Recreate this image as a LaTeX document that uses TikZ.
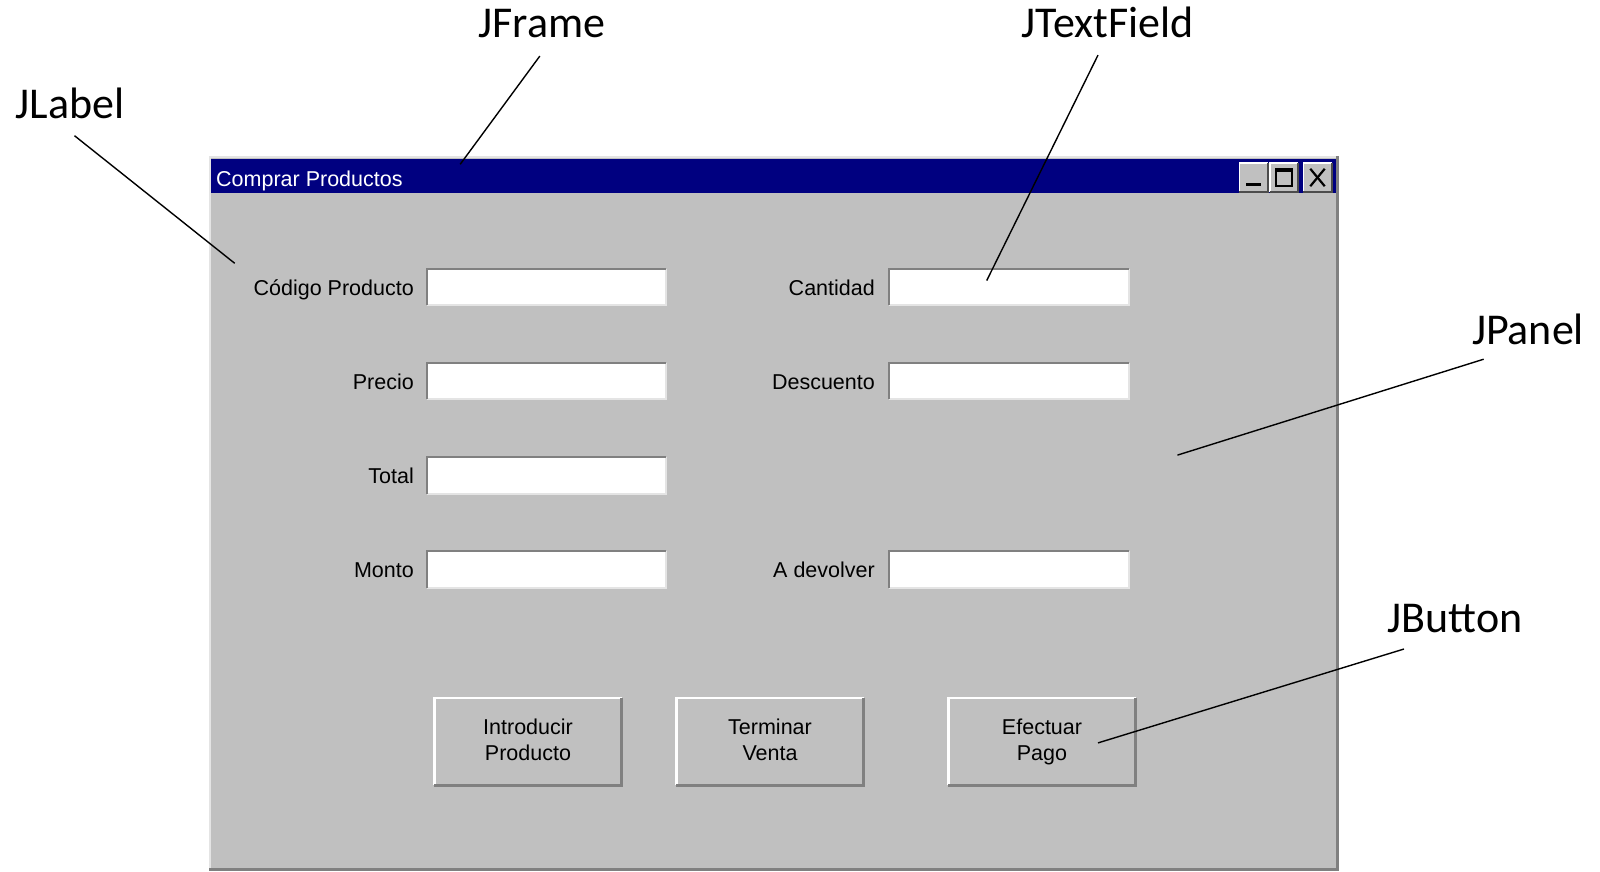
\documentclass[tikz,border=0pt]{standalone}
\usepackage{fontspec}
\newfontfamily\uifont{Liberation Sans}
\newfontfamily\callfont{Carlito}
\definecolor{wingray}{HTML}{C0C0C0}
\definecolor{winnavy}{HTML}{000080}
\definecolor{winshadow}{HTML}{808080}
\definecolor{winlight}{HTML}{E4E4E4}
\begin{document}
\begin{tikzpicture}[x=1pt,y=-1pt,
 callout/.style={font=\callfont\fontsize{44}{52}\selectfont, anchor=base, inner sep=0pt},
 uilabel/.style={font=\uifont\fontsize{21.5}{26}\selectfont, anchor=base east, inner sep=0pt},
 field/.style={fill=white, minimum width=239pt, minimum height=36pt, inner sep=0pt},
 pushbtn/.style={fill=wingray, minimum width=187pt, minimum height=87pt, inner sep=0pt, align=center, font=\uifont\fontsize{21.5}{26}\selectfont},
 tbtn/.style={fill=wingray, minimum width=28pt, minimum height=29pt, inner sep=0pt},
 pointer/.style={line width=1.4pt, black},
]
\useasboundingbox (0,0) rectangle (1600,872);
\fill[white] (0,0) rectangle (1600,872);

% window
\fill[wingray] (209,156) rectangle (1339,871);
\draw[winlight,line width=2pt] (210,871) -- (210,157) -- (1338,157);
\draw[winshadow,line width=3pt] (209,869.5) -- (1337.5,869.5) -- (1337.5,156);
\fill[winnavy] (211,159) rectangle (1336,193);
\node[font=\uifont\fontsize{21.5}{26}\selectfont, text=white, anchor=base west, inner sep=0pt] (title) at (216,186) {Comprar Productos};

% title buttons
\node[tbtn] (tmin) at (1253.5,177.5) {};
\node[tbtn] (tmax) at (1284,177.5) {};
\node[tbtn] (tclose) at (1317.5,177.5) {};
\foreach \b in {tmin,tmax,tclose}{
  \draw[white,line width=1.5pt] (\b.south west) |- (\b.north east);
  \draw[black!70,line width=2pt] (\b.south west) -| (\b.north east);
}
\fill[black] ([xshift=7pt,yshift=6pt]tmin.south west) rectangle ([xshift=-7pt,yshift=9pt]tmin.south east);
\draw[black,line width=1.5pt] ([xshift=6pt,yshift=6pt]tmax.south west) rectangle ([xshift=-6pt,yshift=-6pt]tmax.north east);
\fill[black] ([xshift=6pt,yshift=-6pt]tmax.north west) rectangle ([xshift=-6pt,yshift=-9pt]tmax.north east);
\draw[black,line width=2.2pt] ([xshift=7pt,yshift=6pt]tclose.south west) -- ([xshift=-7pt,yshift=-6pt]tclose.north east);
\draw[black,line width=2.2pt] ([xshift=7pt,yshift=-6pt]tclose.north west) -- ([xshift=-7pt,yshift=6pt]tclose.south east);

% fields
\node[field] (fcod) at (546.5,287) {};
\node[field] (fpre) at (546.5,381) {};
\node[field] (ftot) at (546.5,475.5) {};
\node[field] (fmon) at (546.5,569.5) {};
\node[field] (fcan) at (1009,287) {};
\node[field] (fdes) at (1009,381) {};
\node[field] (fdev) at (1009,569.5) {};
\foreach \f in {fcod,fpre,ftot,fmon,fcan,fdes,fdev}{
  \draw[winlight,line width=2pt] (\f.south west) -| (\f.north east);
  \draw[winshadow,line width=2pt] (\f.south west) |- (\f.north east);
}

% labels
\node[uilabel] (lcod) at (414,295) {Código Producto};
\node[uilabel] (lpre) at (414,389) {Precio};
\node[uilabel] (ltot) at (414,483.5) {Total};
\node[uilabel] (lmon) at (414,577.5) {Monto};
\node[uilabel] (lcan) at (875,295) {Cantidad};
\node[uilabel] (ldes) at (875,389) {Descuento};
\node[uilabel] (ldev) at (875,577.5) {A devolver};

% buttons
\node[pushbtn] (bint) at (528,741.5) {Introducir\\Producto\vphantom{g}};
\node[pushbtn] (bter) at (770,741.5) {Terminar\\Venta\vphantom{g}};
\node[pushbtn] (bef) at (1042,741.5) {Efectuar\\Pago};
\foreach \b in {bint,bter,bef}{
  \draw[white,line width=2.5pt] (\b.south west) |- (\b.north east);
  \draw[winshadow,line width=3pt] (\b.south west) -| (\b.north east);
}

% callouts
\node[callout] (cJLabel) at (70,119) {JLabel};
\node[callout] (cJFrame) at (542,38) {JFrame};
\node[callout] (cJText) at (1107.5,38) {JTextField};
\node[callout] (cJPanel) at (1528,344) {JPanel};
\node[callout] (cJButton) at (1455,632.5) {JButton};

\coordinate (sLabel) at (74.5,135.7);
\coordinate (eLabel) at (234.7,263.3);
\coordinate (sFrame) at (539.8,56.1);
\coordinate (eFrame) at (460.2,164.3);
\coordinate (sText) at (1098,55.1);
\coordinate (eText) at (986.7,280.6);
\coordinate (sPanel) at (1483.7,359.2);
\coordinate (ePanel) at (1177.5,455.1);
\coordinate (sButton) at (1404,649);
\coordinate (eButton) at (1098,742.9);
\draw[pointer] (sLabel) -- (eLabel);
\draw[pointer] (sFrame) -- (eFrame);
\draw[pointer] (sText) -- (eText);
\draw[pointer] (sPanel) -- (ePanel);
\draw[pointer] (sButton) -- (eButton);
\end{tikzpicture}
\end{document}
